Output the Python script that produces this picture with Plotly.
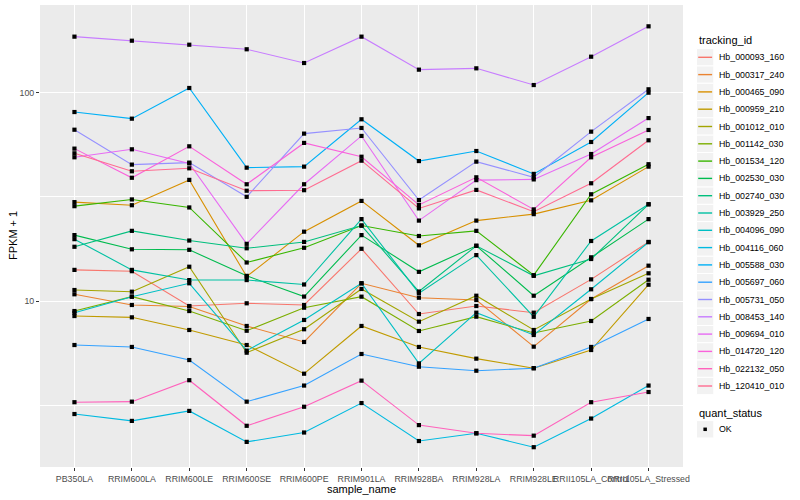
import plotly.graph_objects as go

samples = ["PB350LA", "RRIM600LA", "RRIM600LE", "RRIM600SE", "RRIM600PE", "RRIM901LA",
           "RRIM928BA", "RRIM928LA", "RRIM928LE", "RRII105LA_Control", "RRII105LA_Stressed"]

tracking_ids = ["Hb_000093_160", "Hb_000317_240", "Hb_000465_090", "Hb_000959_210",
                "Hb_001012_010", "Hb_001142_030", "Hb_001534_120", "Hb_002530_030",
                "Hb_002740_030", "Hb_003929_250", "Hb_004096_090", "Hb_004116_060",
                "Hb_005588_030", "Hb_005697_060", "Hb_005731_050", "Hb_008453_140",
                "Hb_009694_010", "Hb_014720_120", "Hb_022132_050", "Hb_120410_010"]

# FPKM + 1 per sample (same order as samples)
hb_000093_160 = [14.1, 13.9, 9.46, 9.75, 9.57, 17.8, 8.66, 9.46, 8.79, 12.7, 19.2]
hb_000317_240 = [10.77, 9.57, 9.41, 7.59, 6.36, 12.16, 10.37, 10.11, 6.04, 10.22, 14.77]
hb_000465_090 = [29.8, 28.8, 38.1, 13.1, 21.5, 30.2, 18.5, 24.3, 26.1, 30.4, 44.1]
hb_000959_210 = [8.47, 8.35, 7.26, 6.15, 4.48, 7.59, 6.02, 5.29, 4.76, 5.82, 11.97]
hb_001012_010 = [11.29, 11.08, 14.6, 5.65, 7.32, 11.42, 7.96, 10.6, 7.26, 10.22, 13.58]
hb_001142_030 = [8.95, 10.49, 8.95, 7.2, 9.29, 10.49, 7.18, 8.41, 7.02, 8.02, 12.65]
hb_001534_120 = [28.5, 30.7, 28.1, 15.3, 18.0, 23.0, 20.5, 21.7, 13.3, 32.5, 45.3]
hb_002530_030 = [20.7, 17.7, 17.6, 13.2, 10.5, 20.7, 13.8, 18.4, 10.6, 16.2, 24.7]
hb_002740_030 = [18.2, 21.7, 19.5, 17.9, 19.2, 23.0, 11.1, 18.4, 13.2, 15.9, 29.1]
hb_003929_250 = [19.8, 14.1, 12.6, 12.6, 12.0, 24.7, 10.9, 16.6, 8.4, 19.4, 29.1]
hb_004096_090 = [8.79, 10.49, 12.16, 5.78, 8.11, 12.16, 5.02, 8.79, 6.87, 11.38, 19.14]
hb_004116_060 = [2.87, 2.66, 2.97, 2.11, 2.34, 3.24, 2.13, 2.32, 1.99, 2.73, 3.93]
hb_005588_030 = [80.6, 74.9, 105.1, 43.6, 44.1, 74.4, 46.9, 52.4, 40.7, 57.9, 99.8]
hb_005697_060 = [6.15, 6.02, 5.21, 3.29, 3.93, 5.57, 4.84, 4.63, 4.76, 6.02, 8.2]
hb_005731_050 = [66.3, 45.1, 46.1, 31.6, 63.5, 67.6, 30.5, 46.6, 39.2, 64.9, 103.6]
hb_008453_140 = [185.3, 177.2, 169.5, 161.2, 138.5, 185.3, 128.7, 130.6, 108.6, 148.5, 207.7]
hb_009694_010 = [48.9, 53.4, 45.7, 18.8, 36.3, 61.9, 24.3, 38.0, 38.3, 50.7, 75.4]
hb_014720_120 = [53.8, 39.0, 55.2, 36.3, 57.3, 49.2, 28.9, 39.2, 27.5, 48.9, 66.1]
hb_022132_050 = [3.27, 3.29, 4.17, 2.52, 3.11, 4.15, 2.54, 2.32, 2.26, 3.27, 3.66]
hb_120410_010 = [51.1, 41.9, 43.3, 33.8, 34.0, 47.1, 27.8, 34.1, 26.8, 36.7, 59.0]

series = [hb_000093_160, hb_000317_240, hb_000465_090, hb_000959_210, hb_001012_010,
          hb_001142_030, hb_001534_120, hb_002530_030, hb_002740_030, hb_003929_250,
          hb_004096_090, hb_004116_060, hb_005588_030, hb_005697_060, hb_005731_050,
          hb_008453_140, hb_009694_010, hb_014720_120, hb_022132_050, hb_120410_010]

quant_status = ["OK"]

colors = ["#F8766D", "#EA8331", "#D89000", "#C09B00", "#A3A500", "#7CAE00", "#39B600",
          "#00BB4E", "#00BF7D", "#00C1A3", "#00BFC4", "#00BAE0", "#00B0F6", "#35A2FF",
          "#9590FF", "#C77CFF", "#E76BF3", "#FA62DB", "#FF62BC", "#FF6C91"]

FONT = "Liberation Sans, Arial, Helvetica, sans-serif"
PL, PR, PT, PB = 40, 683, 5, 467   # panel in pixels


def xp(px):
    return (px - PL) / (PR - PL)


def yp(py):
    return (PB - py) / (PB - PT)


fig = go.Figure()
for tid, vals, col in zip(tracking_ids, series, colors):
    fig.add_trace(go.Scatter(x=samples, y=vals, mode="lines", name=tid,
                             line=dict(color=col, width=1.1), showlegend=False))

pts_x = [s for vals in series for s in samples]
pts_y = [v for vals in series for v in vals]
fig.add_trace(go.Scatter(x=pts_x, y=pts_y, mode="markers", name=quant_status[0],
                         marker=dict(symbol="square", size=4.2, color="black"),
                         showlegend=False))

shapes = []
annotations = []
# axis titles
annotations.append(dict(x=xp(361.5), y=yp(489), xref="paper", yref="paper", text="sample_name",
                        showarrow=False, xanchor="center", yanchor="middle",
                        font=dict(family=FONT, size=11, color="black")))
annotations.append(dict(x=xp(13), y=yp(236), xref="paper", yref="paper", text="FPKM + 1",
                        showarrow=False, xanchor="center", yanchor="middle", textangle=-90,
                        font=dict(family=FONT, size=11, color="black")))
# legend: tracking_id
annotations.append(dict(x=xp(696.5), y=yp(40.5), xref="paper", yref="paper", text="tracking_id",
                        showarrow=False, xanchor="left", yanchor="middle",
                        font=dict(family=FONT, size=11, color="black")))
for i, (tid, col) in enumerate(zip(tracking_ids, colors)):
    cy = 57.3 + i * 17.3
    shapes.append(dict(type="rect", xref="paper", yref="paper",
                       x0=xp(696.5), x1=xp(713.8), y0=yp(cy + 8.65), y1=yp(cy - 8.65),
                       fillcolor="#F2F2F2", line=dict(color="white", width=1)))
    shapes.append(dict(type="line", xref="paper", yref="paper",
                       x0=xp(698.2), x1=xp(712.1), y0=yp(cy), y1=yp(cy),
                       line=dict(color=col, width=1.4)))
    annotations.append(dict(x=xp(716.5), y=yp(cy), xref="paper", yref="paper", text=tid,
                            showarrow=False, xanchor="left", yanchor="middle",
                            font=dict(family=FONT, size=8.8, color="black")))
# legend: quant_status
annotations.append(dict(x=xp(696.5), y=yp(412.7), xref="paper", yref="paper", text="quant_status",
                        showarrow=False, xanchor="left", yanchor="middle",
                        font=dict(family=FONT, size=11, color="black")))
cy = 429.3
shapes.append(dict(type="rect", xref="paper", yref="paper",
                   x0=xp(696.5), x1=xp(713.8), y0=yp(cy + 8.65), y1=yp(cy - 8.65),
                   fillcolor="#F2F2F2", line=dict(color="white", width=1)))
shapes.append(dict(type="rect", xref="paper", yref="paper",
                   x0=xp(703.4), x1=xp(706.9), y0=yp(cy + 1.75), y1=yp(cy - 1.75),
                   fillcolor="black", line=dict(width=0)))
annotations.append(dict(x=xp(716.5), y=yp(cy), xref="paper", yref="paper", text=quant_status[0],
                        showarrow=False, xanchor="left", yanchor="middle",
                        font=dict(family=FONT, size=8.8, color="black")))

fig.update_layout(
    width=800, height=500,
    margin=dict(l=PL, r=800 - PR, t=PT, b=500 - PB),
    paper_bgcolor="white", plot_bgcolor="#EBEBEB",
    font=dict(family=FONT),
    shapes=shapes, annotations=annotations,
    showlegend=False,
)
fig.update_xaxes(
    type="category", categoryorder="array", categoryarray=samples,
    range=[-0.6, len(samples) - 0.4],
    showgrid=True, gridcolor="white", gridwidth=1.1,
    ticks="outside", ticklen=3, tickcolor="#333333", tickwidth=1,
    tickfont=dict(family=FONT, size=8.8, color="#4D4D4D"), tickangle=0,
    zeroline=False, showline=False,
)
fig.update_yaxes(
    type="log", range=[0.2038, 2.4197],
    tickvals=[10, 100], ticktext=["10", "100"],
    showgrid=True, gridcolor="white", gridwidth=1.1,
    ticks="outside", ticklen=3, tickcolor="#333333", tickwidth=1,
    tickfont=dict(family=FONT, size=8.8, color="#4D4D4D"),
    minor=dict(tickvals=[10 ** 0.5, 10 ** 1.5], showgrid=True, gridcolor="white",
               gridwidth=0.55, ticks=""),
    zeroline=False, showline=False,
)

fig.write_html("out.html", config={"displayModeBar": False},
               post_script="document.body.style.margin='0';document.body.style.overflow='hidden';")
